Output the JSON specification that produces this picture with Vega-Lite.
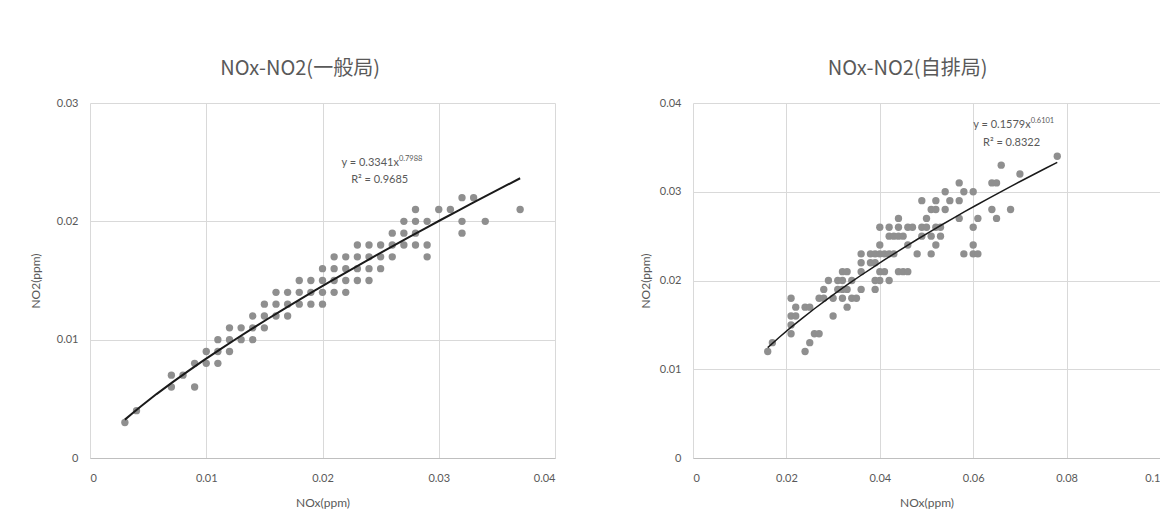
{
  "$schema": "https://vega.github.io/schema/vega-lite/v6.json",
  "background": "white",
  "padding": {"left": 29, "top": 59, "right": 0, "bottom": 5},
  "datasets": {
    "general": [
      {"NOx":0.003,"NO2":0.003},{"NOx":0.004,"NO2":0.004},{"NOx":0.007,"NO2":0.007},{"NOx":0.007,"NO2":0.006},{"NOx":0.008,"NO2":0.007},{"NOx":0.009,"NO2":0.006},{"NOx":0.009,"NO2":0.008},
      {"NOx":0.010,"NO2":0.009},{"NOx":0.010,"NO2":0.008},{"NOx":0.011,"NO2":0.010},{"NOx":0.011,"NO2":0.009},{"NOx":0.011,"NO2":0.008},
      {"NOx":0.012,"NO2":0.011},{"NOx":0.012,"NO2":0.010},{"NOx":0.012,"NO2":0.009},{"NOx":0.013,"NO2":0.011},{"NOx":0.013,"NO2":0.010},
      {"NOx":0.014,"NO2":0.012},{"NOx":0.014,"NO2":0.011},{"NOx":0.014,"NO2":0.010},
      {"NOx":0.015,"NO2":0.013},{"NOx":0.015,"NO2":0.012},{"NOx":0.015,"NO2":0.011},
      {"NOx":0.016,"NO2":0.014},{"NOx":0.016,"NO2":0.013},{"NOx":0.016,"NO2":0.012},{"NOx":0.017,"NO2":0.014},{"NOx":0.017,"NO2":0.013},{"NOx":0.017,"NO2":0.012},
      {"NOx":0.018,"NO2":0.013},{"NOx":0.019,"NO2":0.013},{"NOx":0.020,"NO2":0.013},
      {"NOx":0.018,"NO2":0.014},{"NOx":0.019,"NO2":0.014},{"NOx":0.020,"NO2":0.014},{"NOx":0.021,"NO2":0.014},{"NOx":0.022,"NO2":0.014},
      {"NOx":0.018,"NO2":0.015},{"NOx":0.019,"NO2":0.015},{"NOx":0.020,"NO2":0.015},{"NOx":0.021,"NO2":0.015},{"NOx":0.022,"NO2":0.015},{"NOx":0.023,"NO2":0.015},{"NOx":0.024,"NO2":0.015},
      {"NOx":0.020,"NO2":0.016},{"NOx":0.021,"NO2":0.016},{"NOx":0.022,"NO2":0.016},{"NOx":0.023,"NO2":0.016},{"NOx":0.024,"NO2":0.016},{"NOx":0.025,"NO2":0.016},
      {"NOx":0.021,"NO2":0.017},{"NOx":0.022,"NO2":0.017},{"NOx":0.023,"NO2":0.017},{"NOx":0.024,"NO2":0.017},{"NOx":0.025,"NO2":0.017},{"NOx":0.026,"NO2":0.017},{"NOx":0.029,"NO2":0.017},
      {"NOx":0.023,"NO2":0.018},{"NOx":0.024,"NO2":0.018},{"NOx":0.025,"NO2":0.018},{"NOx":0.026,"NO2":0.018},{"NOx":0.027,"NO2":0.018},{"NOx":0.028,"NO2":0.018},{"NOx":0.029,"NO2":0.018},
      {"NOx":0.026,"NO2":0.019},{"NOx":0.027,"NO2":0.019},{"NOx":0.028,"NO2":0.019},{"NOx":0.032,"NO2":0.019},
      {"NOx":0.027,"NO2":0.020},{"NOx":0.028,"NO2":0.020},{"NOx":0.029,"NO2":0.020},{"NOx":0.032,"NO2":0.020},{"NOx":0.034,"NO2":0.020},
      {"NOx":0.028,"NO2":0.021},{"NOx":0.030,"NO2":0.021},{"NOx":0.031,"NO2":0.021},{"NOx":0.037,"NO2":0.021},
      {"NOx":0.032,"NO2":0.022},{"NOx":0.033,"NO2":0.022}
    ],
    "roadside": [
      {"NOx":0.016,"NO2":0.012},{"NOx":0.024,"NO2":0.012},
      {"NOx":0.017,"NO2":0.013},{"NOx":0.025,"NO2":0.013},
      {"NOx":0.021,"NO2":0.014},{"NOx":0.026,"NO2":0.014},{"NOx":0.027,"NO2":0.014},
      {"NOx":0.021,"NO2":0.015},
      {"NOx":0.021,"NO2":0.016},{"NOx":0.022,"NO2":0.016},{"NOx":0.030,"NO2":0.016},
      {"NOx":0.022,"NO2":0.017},{"NOx":0.024,"NO2":0.017},{"NOx":0.025,"NO2":0.017},{"NOx":0.033,"NO2":0.017},
      {"NOx":0.021,"NO2":0.018},{"NOx":0.027,"NO2":0.018},{"NOx":0.028,"NO2":0.018},{"NOx":0.030,"NO2":0.018},{"NOx":0.032,"NO2":0.018},{"NOx":0.034,"NO2":0.018},{"NOx":0.035,"NO2":0.018},
      {"NOx":0.028,"NO2":0.019},{"NOx":0.031,"NO2":0.019},{"NOx":0.032,"NO2":0.019},{"NOx":0.033,"NO2":0.019},{"NOx":0.036,"NO2":0.019},{"NOx":0.039,"NO2":0.019},
      {"NOx":0.029,"NO2":0.020},{"NOx":0.031,"NO2":0.020},{"NOx":0.032,"NO2":0.020},{"NOx":0.034,"NO2":0.020},{"NOx":0.039,"NO2":0.020},{"NOx":0.040,"NO2":0.020},{"NOx":0.042,"NO2":0.020},
      {"NOx":0.032,"NO2":0.021},{"NOx":0.033,"NO2":0.021},{"NOx":0.036,"NO2":0.021},{"NOx":0.040,"NO2":0.021},{"NOx":0.041,"NO2":0.021},{"NOx":0.044,"NO2":0.021},{"NOx":0.045,"NO2":0.021},{"NOx":0.046,"NO2":0.021},
      {"NOx":0.036,"NO2":0.022},{"NOx":0.038,"NO2":0.022},{"NOx":0.039,"NO2":0.022},
      {"NOx":0.036,"NO2":0.023},{"NOx":0.038,"NO2":0.023},{"NOx":0.039,"NO2":0.023},{"NOx":0.040,"NO2":0.023},{"NOx":0.041,"NO2":0.023},{"NOx":0.042,"NO2":0.023},{"NOx":0.043,"NO2":0.023},{"NOx":0.048,"NO2":0.023},{"NOx":0.051,"NO2":0.023},{"NOx":0.058,"NO2":0.023},{"NOx":0.060,"NO2":0.023},{"NOx":0.061,"NO2":0.023},
      {"NOx":0.040,"NO2":0.024},{"NOx":0.046,"NO2":0.024},{"NOx":0.052,"NO2":0.024},{"NOx":0.060,"NO2":0.024},
      {"NOx":0.042,"NO2":0.025},{"NOx":0.043,"NO2":0.025},{"NOx":0.044,"NO2":0.025},{"NOx":0.045,"NO2":0.025},{"NOx":0.049,"NO2":0.025},{"NOx":0.051,"NO2":0.025},{"NOx":0.053,"NO2":0.025},
      {"NOx":0.040,"NO2":0.026},{"NOx":0.042,"NO2":0.026},{"NOx":0.044,"NO2":0.026},{"NOx":0.046,"NO2":0.026},{"NOx":0.047,"NO2":0.026},{"NOx":0.049,"NO2":0.026},{"NOx":0.050,"NO2":0.026},{"NOx":0.052,"NO2":0.026},{"NOx":0.053,"NO2":0.026},{"NOx":0.060,"NO2":0.026},
      {"NOx":0.044,"NO2":0.027},{"NOx":0.050,"NO2":0.027},{"NOx":0.057,"NO2":0.027},{"NOx":0.061,"NO2":0.027},{"NOx":0.065,"NO2":0.027},
      {"NOx":0.051,"NO2":0.028},{"NOx":0.052,"NO2":0.028},{"NOx":0.054,"NO2":0.028},{"NOx":0.064,"NO2":0.028},{"NOx":0.068,"NO2":0.028},
      {"NOx":0.049,"NO2":0.029},{"NOx":0.052,"NO2":0.029},{"NOx":0.055,"NO2":0.029},{"NOx":0.057,"NO2":0.029},
      {"NOx":0.054,"NO2":0.030},{"NOx":0.058,"NO2":0.030},{"NOx":0.060,"NO2":0.030},
      {"NOx":0.057,"NO2":0.031},{"NOx":0.064,"NO2":0.031},{"NOx":0.065,"NO2":0.031},
      {"NOx":0.070,"NO2":0.032},{"NOx":0.066,"NO2":0.033},{"NOx":0.078,"NO2":0.034}
    ]
  },
  "config": {
    "font": "Lato",
    "view": {"stroke": null},
    "axis": {
      "gridColor": "#d9d9d9", "gridWidth": 1, "ticks": false,
      "labelColor": "#595959", "titleColor": "#595959",
      "labelFont": "Lato", "titleFont": "Lato",
      "labelFontSize": 11, "titleFontSize": 12, "titleFontWeight": "normal"
    },
    "axisX": {"domainColor": "#bfbfbf", "labelPadding": 14, "titlePadding": 14},
    "axisY": {"domain": false, "labelPadding": 12, "titlePadding": 14},
    "title": {"fontSize": 20, "fontWeight": "normal", "color": "#595959", "font": "Noto Sans CJK JP", "offset": 18, "anchor": "middle", "frame": "bounds", "dx": 8},
    "concat": {"spacing": 84}
  },
  "hconcat": [
    {
      "width": 465, "height": 355,
      "title": "NOx-NO2(一般局)",
      "layer": [
        {
          "data": {"name": "general"},
          "mark": {"type": "circle", "size": 54, "color": "#8f8f8f", "opacity": 1},
          "encoding": {
            "x": {"field": "NOx", "type": "quantitative", "scale": {"domain": [0, 0.04], "nice": false}, "axis": {"values": [0, 0.01, 0.02, 0.03, 0.04], "format": "~g", "title": "NOx(ppm)"}},
            "y": {"field": "NO2", "type": "quantitative", "scale": {"domain": [0, 0.03], "nice": false}, "axis": {"values": [0, 0.01, 0.02, 0.03], "format": "~g", "title": "NO2(ppm)"}}
          }
        },
        {
          "data": {"name": "general"},
          "transform": [{"regression": "NO2", "on": "NOx", "method": "pow"}],
          "mark": {"type": "line", "color": "#1a1a1a", "strokeWidth": 2},
          "encoding": {
            "x": {"field": "NOx", "type": "quantitative"},
            "y": {"field": "NO2", "type": "quantitative"}
          }
        },
        {
          "data": {"values": [{}]},
          "mark": {"type": "text", "text": "y = 0.3341x", "align": "right", "baseline": "middle", "fontSize": 11, "color": "#595959", "font": "Lato"},
          "encoding": {"x": {"datum": 0.02657, "type": "quantitative"}, "y": {"datum": 0.02494, "type": "quantitative"}}
        },
        {
          "data": {"values": [{}]},
          "mark": {"type": "text", "text": "0.7988", "align": "left", "baseline": "middle", "fontSize": 7.5, "dy": -4, "color": "#595959", "font": "Lato"},
          "encoding": {"x": {"datum": 0.02657, "type": "quantitative"}, "y": {"datum": 0.02494, "type": "quantitative"}}
        },
        {
          "data": {"values": [{}]},
          "mark": {"type": "text", "text": "R² = 0.9685", "align": "center", "baseline": "middle", "fontSize": 11, "color": "#595959", "font": "Lato"},
          "encoding": {"x": {"datum": 0.02492, "type": "quantitative"}, "y": {"datum": 0.0235, "type": "quantitative"}}
        }
      ]
    },
    {
      "width": 467, "height": 355,
      "title": "NOx-NO2(自排局)",
      "layer": [
        {
          "data": {"name": "roadside"},
          "mark": {"type": "circle", "size": 54, "color": "#8f8f8f", "opacity": 1},
          "encoding": {
            "x": {"field": "NOx", "type": "quantitative", "scale": {"domain": [0, 0.1], "nice": false}, "axis": {"values": [0, 0.02, 0.04, 0.06, 0.08, 0.1], "format": "~g", "title": "NOx(ppm)"}},
            "y": {"field": "NO2", "type": "quantitative", "scale": {"domain": [0, 0.04], "nice": false}, "axis": {"values": [0, 0.01, 0.02, 0.03, 0.04], "format": "~g", "title": "NO2(ppm)", "titlePadding": 7}}
          }
        },
        {
          "data": {"name": "roadside"},
          "transform": [{"regression": "NO2", "on": "NOx", "method": "pow"}],
          "mark": {"type": "line", "color": "#1a1a1a", "strokeWidth": 1.5},
          "encoding": {
            "x": {"field": "NOx", "type": "quantitative"},
            "y": {"field": "NO2", "type": "quantitative"}
          }
        },
        {
          "data": {"values": [{}]},
          "mark": {"type": "text", "text": "y = 0.1579x", "align": "right", "baseline": "middle", "fontSize": 11, "color": "#595959", "font": "Lato"},
          "encoding": {"x": {"datum": 0.07231, "type": "quantitative"}, "y": {"datum": 0.03752, "type": "quantitative"}}
        },
        {
          "data": {"values": [{}]},
          "mark": {"type": "text", "text": "0.6101", "align": "left", "baseline": "middle", "fontSize": 7.5, "dy": -4, "color": "#595959", "font": "Lato"},
          "encoding": {"x": {"datum": 0.07231, "type": "quantitative"}, "y": {"datum": 0.03752, "type": "quantitative"}}
        },
        {
          "data": {"values": [{}]},
          "mark": {"type": "text", "text": "R² = 0.8322", "align": "center", "baseline": "middle", "fontSize": 11, "color": "#595959", "font": "Lato"},
          "encoding": {"x": {"datum": 0.06821, "type": "quantitative"}, "y": {"datum": 0.03549, "type": "quantitative"}}
        }
      ]
    }
  ]
}
